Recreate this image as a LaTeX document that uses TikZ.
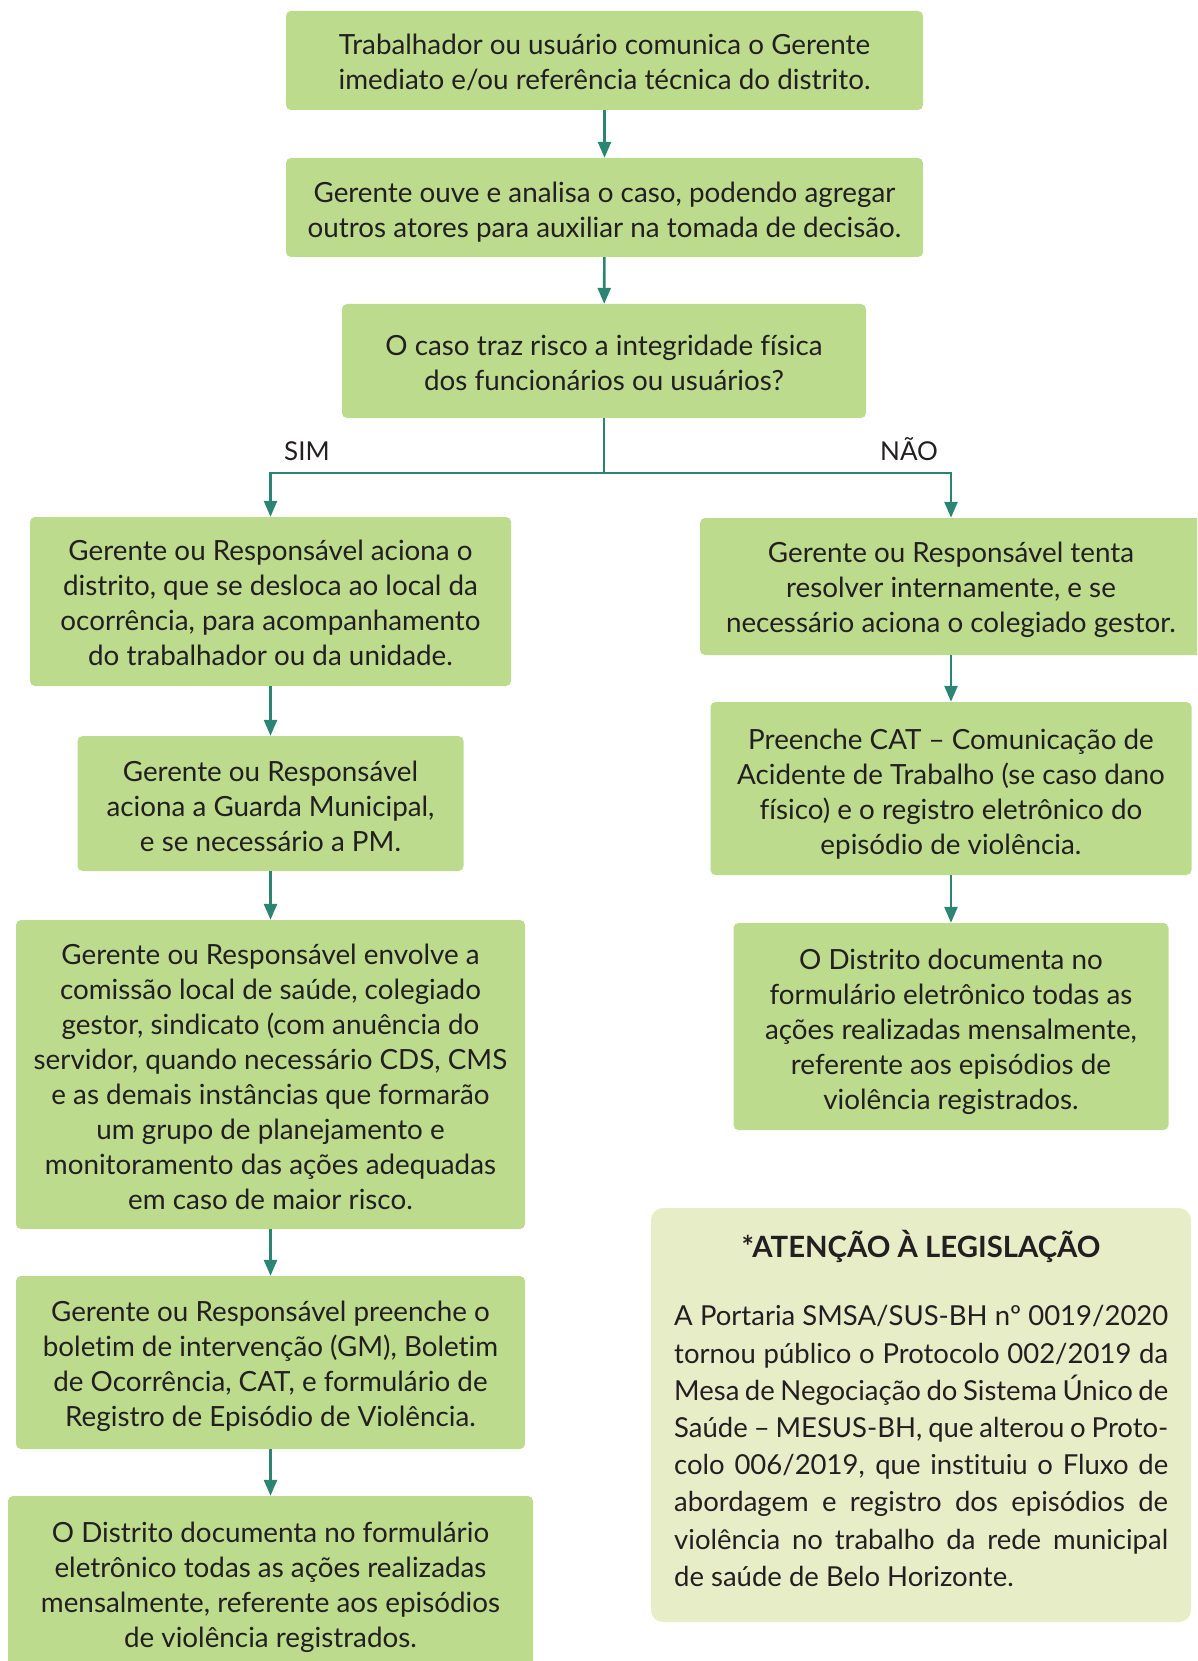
\documentclass[tikz,border=0pt]{standalone}
\usepackage{fontspec}
\setmainfont[Ligatures={NoCommon}]{Lato}
\usetikzlibrary{arrows.meta}
\definecolor{boxgreen}{HTML}{BCDB8D}
\definecolor{notegreen}{HTML}{E6EDC7}
\definecolor{teal}{HTML}{2B8572}
\definecolor{ink}{HTML}{231F20}
\tikzset{
  stepbox/.style={fill=boxgreen, rounded corners=5pt, inner sep=0pt},
  steptext/.style={align=center, inner sep=0pt, text=ink, font=\fontsize{27.8}{35}\selectfont},
  flow/.style={draw=teal, line width=2.6pt, -{Triangle[width=13pt,length=16pt]}},
  lbl/.style={text=ink, font=\fontsize{26}{30}\selectfont, inner sep=0pt}
}
% name, x, y, width, height, text shift down, text
\newcommand{\stepnode}[7]{%
  \node[stepbox, minimum width=#4pt, minimum height=#5pt] (#1) at (#2,#3) {};
  \node[steptext] (#1-t) at (#2,#3+#6) {#7};}
\begin{document}
\begin{tikzpicture}[x=1pt,y=-1pt]
\useasboundingbox (0,0) rectangle (1197,1661);
\clip (0,0) rectangle (1197,1661);
\stepnode{b1}{604.5}{60.5}{637}{99}{2.1}
  {Trabalhador ou usuário comunica o Gerente\\imediato e/ou referência técnica do distrito.}
\stepnode{b2}{604.5}{207.5}{637}{99}{4.2}
  {Gerente ouve e analisa o caso, podendo agregar\\outros atores para auxiliar na tomada de decisão.}
\stepnode{b3}{604}{361}{524}{114}{2.1}
  {O caso traz risco a integridade física\\dos funcionários ou usuários?}
\stepnode{l1}{270.5}{601.5}{481}{169}{1.6}
  {Gerente ou Responsável aciona o\\distrito, que se desloca ao local da\\ocorrência, para acompanhamento\\do trabalhador ou da unidade.}
\stepnode{l2}{270.5}{803.5}{386}{135}{2.6}
  {Gerente ou Responsável\\aciona a Guarda Municipal,\\e se necessário a PM.}
\stepnode{l3}{270.5}{1074.5}{509}{309}{2.1}
  {Gerente ou Responsável envolve a\\comissão local de saúde, colegiado\\gestor, sindicato (com anuência do\\servidor, quando necessário CDS, CMS\\e as demais instâncias que formarão\\um grupo de planejamento e\\monitoramento das ações adequadas\\em caso de maior risco.}
\stepnode{l4}{270.5}{1362.5}{509}{173}{4.2}
  {Gerente ou Responsável preenche o\\boletim de intervenção (GM), Boletim\\de Ocorrência, CAT, e formulário de\\Registro de Episódio de Violência.}
\stepnode{l5}{270.5}{1585}{525}{178}{2.1}
  {O Distrito documenta no formulário\\eletrônico todas as ações realizadas\\mensalmente, referente aos episódios\\de violência registrados.}
\stepnode{r1}{951}{586.5}{502}{137}{3.2}
  {Gerente ou Responsável tenta\\resolver internamente, e se\\necessário aciona o colegiado gestor.}
\stepnode{r2}{951}{788.5}{481}{173}{5.3}
  {Preenche CAT – Comunicação de\\Acidente de Trabalho (se caso dano\\físico) e o registro eletrônico do\\episódio de violência.}
\stepnode{r3}{951}{1026.5}{435}{207}{5.3}
  {O Distrito documenta no\\formulário eletrônico todas as\\ações realizadas mensalmente,\\referente aos episódios de\\violência registrados.}
% note
\node[fill=notegreen, rounded corners=12pt, minimum width=540pt, minimum height=414pt, inner sep=0pt] (note) at (921,1415) {};
\node[lbl, font=\fontsize{29.3}{30}\selectfont\bfseries] (ntitle) at (921,1246) {*ATENÇÃO À LEGISLAÇÃO};
\node[lbl, anchor=north west, align=left, font=\fontsize{27.5}{37.2}\selectfont] (ntext) at (674,1305.4)
  {\makebox[494pt][s]{A Portaria SMSA/SUS-BH nº 0019/2020}\\
   \makebox[494pt][s]{tornou público o Protocolo 002/2019 da}\\
   \makebox[494pt][s]{Mesa de Negociação do Sistema Único de}\\
   \makebox[494pt][s]{Saúde – MESUS-BH, que alterou o Proto-}\\
   \makebox[494pt][s]{colo 006/2019, que instituiu o Fluxo de}\\
   \makebox[494pt][s]{abordagem e registro dos episódios de}\\
   \makebox[494pt][s]{violência no trabalho da rede municipal}\\
   de saúde de Belo Horizonte.};
% labels
\node[lbl, anchor=base west] (sim) at (284,460) {SIM};
\node[lbl, anchor=base west] (nao) at (880,460) {NÃO};
% connectors
\coordinate (split) at (604,473);
\draw[flow] (b1) -- (b2);
\draw[flow] (b2) -- (b3);
\draw[draw=teal, line width=2.6pt] (b3.south) -- (split);
\draw[flow] (split) -| (l1.north);
\draw[flow] (split) -| (r1.north);
\draw[flow] (l1) -- (l2);
\draw[flow] (l2) -- (l3);
\draw[flow] (l3) -- (l4);
\draw[flow] (l4) -- (l4 |- l5.north);
\draw[flow] (r1) -- (r2);
\draw[flow] (r2) -- (r3);
\end{tikzpicture}
\end{document}
